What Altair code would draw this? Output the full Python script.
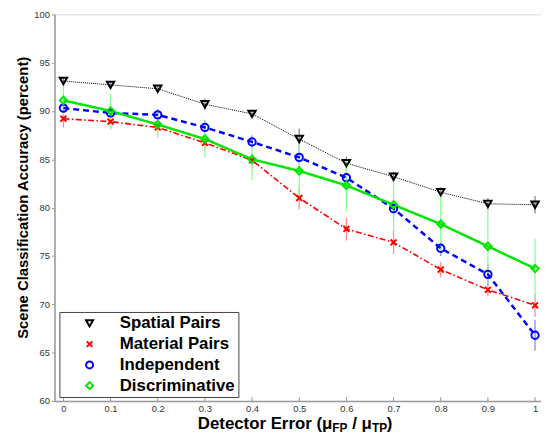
import altair as alt
import pandas as pd

# ---- data ----
x_vals = [0.0, 0.1, 0.2, 0.3, 0.4, 0.5, 0.6, 0.7, 0.8, 0.9, 1.0]
series_names = ["Spatial Pairs", "Material Pairs", "Independent", "Discriminative"]

spatial = [93.1, 92.7, 92.3, 90.7, 89.7, 87.1, 84.6, 83.2, 81.6, 80.4, 80.3]
material = [89.2, 88.9, 88.3, 86.7, 84.9, 81.0, 77.8, 76.4, 73.6, 71.5, 69.9]
independent = [90.3, 89.8, 89.6, 88.3, 86.8, 85.2, 83.1, 79.9, 75.8, 73.1, 66.8]
discriminative = [91.1, 90.0, 88.6, 87.1, 85.0, 83.8, 82.3, 80.3, 78.3, 76.0, 73.7]

spatial_err = [0.3, 0.4, 0.3, 0.6, 0.4, 1.1, 0.7, 0.5, 0.5, 0.6, 0.9]
material_err = [0.9, 0.8, 0.5, 0.6, 0.7, 1.2, 1.2, 1.2, 0.8, 0.7, 1.2]
independent_err = [0.3, 0.5, 0.6, 0.8, 0.7, 0.8, 0.7, 1.0, 0.8, 1.1, 1.6]
discriminative_err = [1.5, 1.8, 1.4, 1.9, 2.1, 2.8, 2.7, 2.7, 3.0, 3.9, 3.1]

y_ticks = [60, 65, 70, 75, 80, 85, 90, 95, 100]

# ---- build table ----
rows = []
for name, vals, errs in zip(series_names,
                            [spatial, material, independent, discriminative],
                            [spatial_err, material_err, independent_err, discriminative_err]):
    for xv, v, e in zip(x_vals, vals, errs):
        rows.append({"x": xv, "y": v, "lo": v - e, "hi": v + e, "series": name})
df = pd.DataFrame(rows)
ticks_df = pd.DataFrame({"x": x_vals})

W, H = 492, 391
FONT = "Liberation Sans"

xscale = alt.Scale(domain=[-0.0189, 1.0126], nice=False, zero=False)
yscale = alt.Scale(domain=[60, 100], nice=False, zero=False)

line_colors = ["#000000", "#ff0000", "#0000ff", "#00e600"]
err_colors = ["#8a8a8a", "#ff8c8c", "#8c8cff", "#8cff8c"]
line_width = [1.0, 1.6, 2.5, 2.5]
line_dash = [[1, 1], [6, 2.5, 1.5, 2.5], [6, 4], [1, 0]]
shapes = ["triangle-down", "M-0.8,-0.8L0.8,0.8M-0.8,0.8L0.8,-0.8", "circle", "diamond"]

X = alt.X("x:Q", scale=xscale,
          axis=alt.Axis(values=x_vals, title=None, ticks=False, labelPadding=3,
                        labelFontSize=9.5, labelColor="#333", labelFont=FONT,
                        domainColor="#999", domainWidth=1.5, grid=False,
                        labelExpr="datum.value == 0 ? '0' : datum.value == 1 ? '1' : format(datum.value, '.1f')"))
Y = alt.Y("y:Q", scale=yscale,
          axis=alt.Axis(values=y_ticks, title="Scene Classification Accuracy (percent)",
                        titleFontSize=15, titleFontWeight="bold", titleFont=FONT, titleColor="black",
                        titleX=-32, titleY=185, titleAlign="center", titleBaseline="middle", titleAngle=-90,
                        tickSize=3, tickColor="#999", labelPadding=2,
                        labelFontSize=9.5, labelColor="#333", labelFont=FONT,
                        domainColor="#999", domainWidth=1.5, grid=False))

base = alt.Chart(df)

layers = []
# x-axis inner ticks
layers.append(alt.Chart(ticks_df).mark_rule(color="#999", strokeWidth=1).encode(
    x=alt.X("x:Q", scale=xscale), y=alt.value(H), y2=alt.value(H - 4)))

# error bars
for name, c in zip(series_names, err_colors):
    layers.append(base.transform_filter(alt.datum.series == name).mark_rule(
        color=c, strokeWidth=1.3).encode(
        x=alt.X("x:Q", scale=xscale), y=alt.Y("lo:Q", scale=yscale), y2="hi:Q"))

# lines
for name, c, w, d in zip(series_names, line_colors, line_width, line_dash):
    layers.append(base.transform_filter(alt.datum.series == name).mark_line(
        color=c, strokeWidth=w, strokeDash=d).encode(
        x=alt.X("x:Q", scale=xscale), y=alt.Y("y:Q", scale=yscale)))

legend = alt.Legend(orient="none", legendX=5, legendY=301, title=None,
                    fillColor="white", strokeColor="#444", padding=3,
                    symbolOffset=19, labelOffset=22, labelFontSize=17, labelFont=FONT,
                    labelFontWeight="bold", labelColor="black", symbolSize=50,
                    symbolStrokeWidth=2, rowPadding=3,
                    labelExpr="datum.label + '\u00a0\u00a0\u00a0'")

points = base.mark_point(filled=False, strokeWidth=2, size=55, opacity=1).encode(
    x=X, y=Y,
    color=alt.Color("series:N", scale=alt.Scale(domain=series_names, range=line_colors), legend=legend),
    shape=alt.Shape("series:N", scale=alt.Scale(domain=series_names, range=shapes), legend=legend),
)
layers.append(points)

# x-axis title with subscripts
one = pd.DataFrame({"a": [0]})
def txt(s, x, y, size):
    return alt.Chart(one).mark_text(align="left", baseline="alphabetic", font=FONT,
                                    fontWeight="bold", fontSize=size, color="black").encode(
        x=alt.value(x), y=alt.value(y), text=alt.value(s))

tx0 = 145
ty = H + 28
layers += [
    txt("Detector Error (\u03bc", tx0, ty, 17),
    txt("FP", tx0 + 136, ty + 3.5, 12),
    txt("/ \u03bc", tx0 + 156, ty, 17),
    txt("TP", tx0 + 176, ty + 3.5, 12),
    txt(")", tx0 + 191, ty, 17),
]

chart = alt.layer(*layers).properties(
    width=W, height=H,
    autosize=alt.AutoSizeParams(type="none"),
    padding={"left": 47, "top": 4, "right": 0, "bottom": 33},
).configure_view(stroke=None).configure(background="white")

chart.save("out.html", embed_options={"renderer": "svg", "actions": False})
